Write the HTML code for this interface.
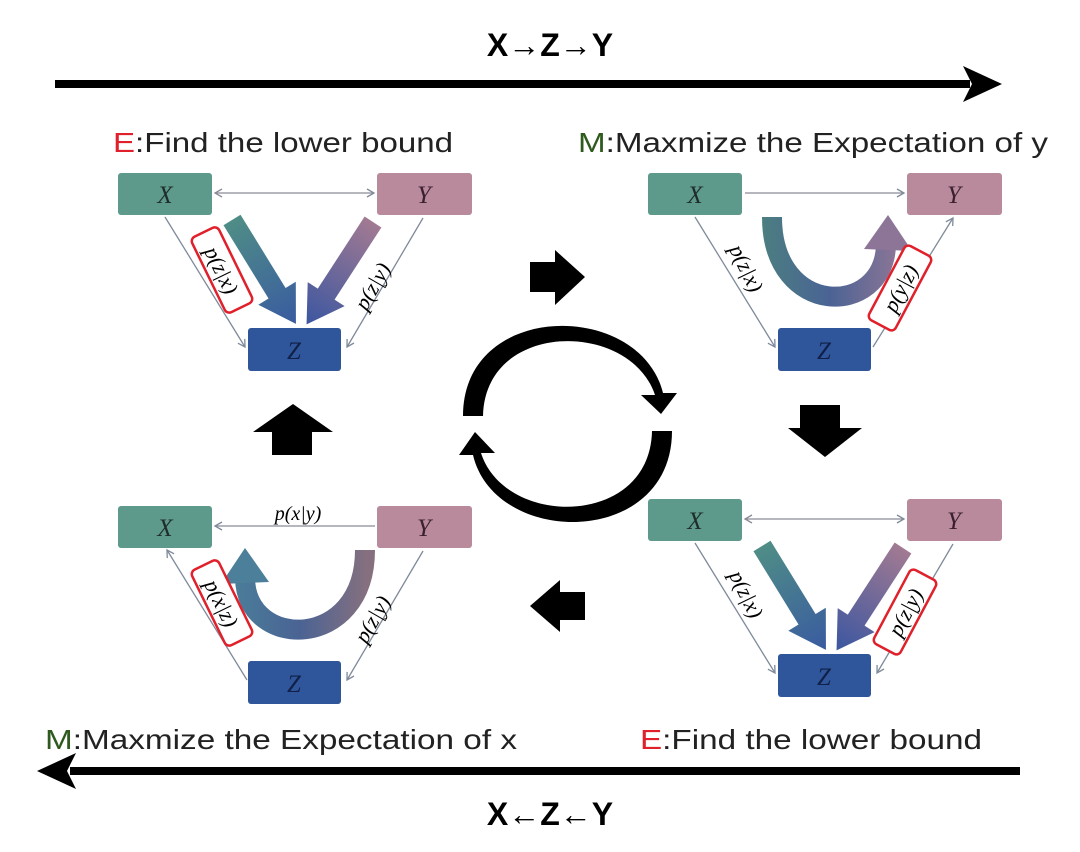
<!DOCTYPE html>
<html><head><meta charset="utf-8"><style>
html,body{margin:0;padding:0;background:#fff;}
svg{display:block;}
text{font-family:"Liberation Sans","DejaVu Sans",sans-serif;}
.v{font-family:"Liberation Serif",serif;font-style:italic;}
</style></head><body>
<svg width="1080" height="852" viewBox="0 0 1080 852" xmlns="http://www.w3.org/2000/svg">
<defs>
<linearGradient id="gL" x1="0" y1="0" x2="120" y2="0" gradientUnits="userSpaceOnUse"><stop offset="0" stop-color="#4f8d86"/><stop offset="1" stop-color="#3a5ca0"/></linearGradient>
<linearGradient id="gR" x1="0" y1="0" x2="120" y2="0" gradientUnits="userSpaceOnUse"><stop offset="0" stop-color="#a27a92"/><stop offset="1" stop-color="#3d57a0"/></linearGradient>
<linearGradient id="gU" x1="112" y1="0" x2="250" y2="0" gradientUnits="userSpaceOnUse"><stop offset="0" stop-color="#4b7f80"/><stop offset="0.5" stop-color="#4a6394"/><stop offset="1" stop-color="#8c7596"/></linearGradient>
<linearGradient id="gU2" x1="250" y1="0" x2="112" y2="0" gradientUnits="userSpaceOnUse"><stop offset="0" stop-color="#86707f"/><stop offset="0.5" stop-color="#4a6394"/><stop offset="1" stop-color="#4b7f9a"/></linearGradient>
<marker id="ah" markerWidth="10" markerHeight="10" refX="8" refY="5" orient="auto" markerUnits="userSpaceOnUse"><path d="M1,1 L8,5 L1,9" fill="none" stroke="#7f8a9a" stroke-width="1.3"/></marker>
<marker id="as" markerWidth="10" markerHeight="10" refX="2" refY="5" orient="auto" markerUnits="userSpaceOnUse"><path d="M9,1 L2,5 L9,9" fill="none" stroke="#8a8a96" stroke-width="1.3"/></marker>
<g id="boxes">
<rect x="0" y="0" width="94" height="42" rx="3" fill="#5e9a8b"/>
<rect x="259" y="0" width="95" height="42" rx="3" fill="#b98a9b"/>
<rect x="130" y="155" width="93" height="43" rx="3" fill="#2f569a"/>
<text x="47" y="30" class="v" font-size="25" text-anchor="middle" fill="#1e2d2a">X</text>
<text x="306" y="30" class="v" font-size="25" text-anchor="middle" fill="#3a2030">Y</text>
<text x="176" y="186" class="v" font-size="25" text-anchor="middle" fill="#10204a">Z</text>
</g>
<g id="bigL"><path d="M0,-10 L86,-10 L86,-22 L122,0 L86,22 L86,10 L0,10 Z" fill="url(#gL)"/></g>
<g id="bigR"><path d="M0,-10 L86,-10 L86,-22 L122,0 L86,22 L86,10 L0,10 Z" fill="url(#gR)"/></g>
</defs>

<text x="550" y="56" font-size="32" font-weight="bold" text-anchor="middle" fill="#000">X→Z→Y</text>
<rect x="55" y="80" width="915" height="8" fill="#000"/>
<path d="M963,66 L1002,84 L963,102 L972,84 Z" fill="#000"/>
<text x="113" y="152" font-size="28" textLength="340" lengthAdjust="spacingAndGlyphs"><tspan fill="#e0202a">E</tspan><tspan fill="#222">:Find the lower bound</tspan></text>
<text x="578" y="152" font-size="28" textLength="470" lengthAdjust="spacingAndGlyphs"><tspan fill="#2e5a1e">M</tspan><tspan fill="#222">:Maxmize the Expectation of y</tspan></text>

<text x="45" y="749" font-size="28" textLength="472" lengthAdjust="spacingAndGlyphs"><tspan fill="#2e5a1e">M</tspan><tspan fill="#222">:Maxmize the Expectation of x</tspan></text>
<text x="640" y="749" font-size="28" textLength="342" lengthAdjust="spacingAndGlyphs"><tspan fill="#e0202a">E</tspan><tspan fill="#222">:Find the lower bound</tspan></text>
<rect x="70" y="767" width="950" height="8" fill="#000"/>
<path d="M76,753 L37,771 L76,789 L67,771 Z" fill="#000"/>
<text x="550" y="825" font-size="32" font-weight="bold" text-anchor="middle" fill="#000">X←Z←Y</text>

<!-- Panel 1 -->
<g transform="translate(118,173)">
<use href="#boxes"/>
<line x1="97" y1="20" x2="256" y2="20" stroke="#8a8a96" stroke-width="1.3" marker-start="url(#as)" marker-end="url(#ah)"/>
<line x1="47" y1="44" x2="127" y2="174" stroke="#7f8a9a" stroke-width="1.3" marker-end="url(#ah)"/>
<line x1="305" y1="45" x2="229" y2="174" stroke="#7f8a9a" stroke-width="1.3" marker-end="url(#ah)"/>
<use href="#bigL" transform="translate(114,47) rotate(58.4)"/>
<use href="#bigR" transform="translate(255,49) rotate(123)"/>
<g transform="translate(104,97) rotate(64)"><rect x="-42" y="-15" width="84" height="30" rx="5" fill="#fff" stroke="#e0202a" stroke-width="2.5"/><text x="0" y="8" class="v" font-size="22" text-anchor="middle">p(z|x)</text></g>
<g transform="translate(254,113) rotate(-60)"><text x="0" y="8" class="v" font-size="22" text-anchor="middle">p(z|y)</text></g>
</g>

<!-- Panel 2 -->
<g transform="translate(648,173)">
<use href="#boxes"/>
<line x1="97" y1="20" x2="256" y2="20" stroke="#8a8a96" stroke-width="1.3" marker-end="url(#ah)"/>
<line x1="47" y1="44" x2="127" y2="174" stroke="#7f8a9a" stroke-width="1.3" marker-end="url(#ah)"/>
<line x1="225" y1="174" x2="305" y2="45" stroke="#7f8a9a" stroke-width="1.3" marker-end="url(#ah)"/>
<path d="M124,44 C124,145 236,145 238,72" fill="none" stroke="url(#gU)" stroke-width="20"/>
<path d="M216,76 L240,42 L264,78 Z" fill="#8c7596"/>
<g transform="translate(252,115) rotate(-62)"><rect x="-42" y="-15" width="84" height="30" rx="5" fill="#fff" stroke="#e0202a" stroke-width="2.5"/><text x="0" y="8" class="v" font-size="22" text-anchor="middle">p(y|z)</text></g>
<g transform="translate(99,95) rotate(64)"><text x="0" y="8" class="v" font-size="22" text-anchor="middle">p(z|x)</text></g>
</g>

<!-- Panel 3 -->
<g transform="translate(648,499)">
<use href="#boxes"/>
<line x1="97" y1="20" x2="256" y2="20" stroke="#8a8a96" stroke-width="1.3" marker-start="url(#as)" marker-end="url(#ah)"/>
<line x1="47" y1="44" x2="127" y2="174" stroke="#7f8a9a" stroke-width="1.3" marker-end="url(#ah)"/>
<line x1="305" y1="45" x2="229" y2="174" stroke="#7f8a9a" stroke-width="1.3" marker-end="url(#ah)"/>
<use href="#bigL" transform="translate(114,47) rotate(58.4)"/>
<use href="#bigR" transform="translate(255,49) rotate(123)"/>
<g transform="translate(99,95) rotate(64)"><text x="0" y="8" class="v" font-size="22" text-anchor="middle">p(z|x)</text></g>
<g transform="translate(257,113) rotate(-62)"><rect x="-42" y="-15" width="84" height="30" rx="5" fill="#fff" stroke="#e0202a" stroke-width="2.5"/><text x="0" y="8" class="v" font-size="22" text-anchor="middle">p(z|y)</text></g>
</g>

<!-- Panel 4 -->
<g transform="translate(118,506)">
<use href="#boxes"/>
<line x1="257" y1="20" x2="97" y2="20" stroke="#8a8a96" stroke-width="1.3" marker-end="url(#ah)"/>
<text x="180" y="14" class="v" font-size="20" text-anchor="middle">p(x|y)</text>
<line x1="129" y1="174" x2="49" y2="44" stroke="#7f8a9a" stroke-width="1.3" marker-end="url(#ah)"/>
<line x1="305" y1="45" x2="229" y2="174" stroke="#7f8a9a" stroke-width="1.3" marker-end="url(#ah)"/>
<path d="M247,44 C247,145 128,145 127,72" fill="none" stroke="url(#gU2)" stroke-width="20"/>
<path d="M103,78 L127,42 L151,76 Z" fill="#4b7f9a"/>
<g transform="translate(104,97) rotate(64)"><rect x="-42" y="-15" width="84" height="30" rx="5" fill="#fff" stroke="#e0202a" stroke-width="2.5"/><text x="0" y="8" class="v" font-size="22" text-anchor="middle">p(x|z)</text></g>
<g transform="translate(254,113) rotate(-60)"><text x="0" y="8" class="v" font-size="22" text-anchor="middle">p(z|y)</text></g>
</g>

<path d="M530,262 L555,262 L555,250 L585,277 L555,305 L555,292 L530,292 Z" fill="#000"/>
<path d="M800,405 L840,405 L840,428 L862,428 L825,457 L788,428 L800,428 Z" fill="#000"/>
<path d="M585,592 L560,592 L560,580 L530,606 L560,632 L560,620 L585,620 Z" fill="#000"/>
<path d="M272,455 L312,455 L312,432 L333,432 L293,404 L253,432 L272,432 Z" fill="#000"/>

<path d="M463,416 C463,300 640,300 663,393 L677,393 L661,414 L641,395 L655,395 C630,320 485,320 483,416 Z" fill="#000"/>
<path d="M672,431 C672,548 495,548 473,455 L459,455 L475,432 L495,453 L481,453 C505,528 650,528 652,431 Z" fill="#000"/>
</svg>
</body></html>
